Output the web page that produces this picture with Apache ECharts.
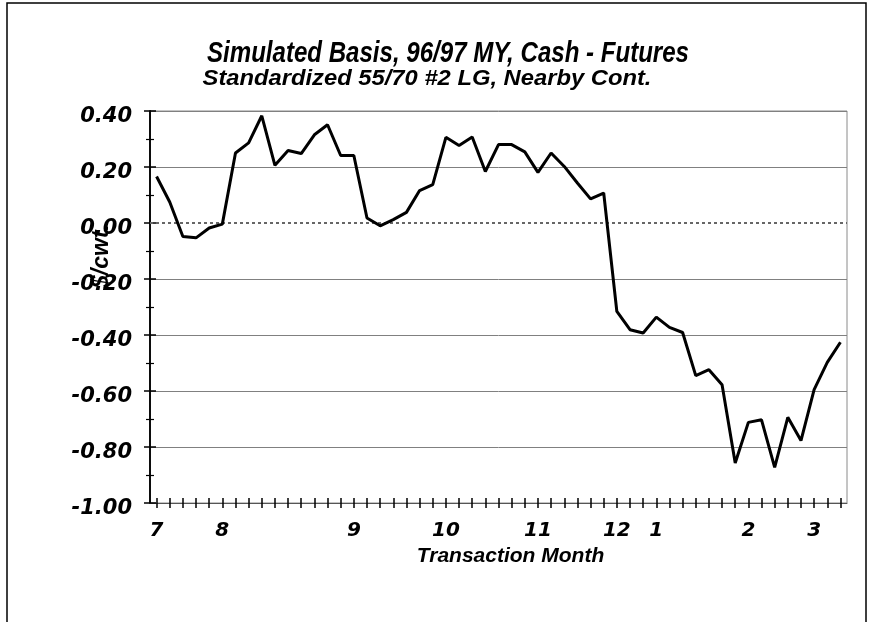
<!DOCTYPE html>
<html>
<head>
<meta charset="utf-8">
<script src="https://cdn.jsdelivr.net/npm/echarts@6/dist/echarts.min.js"></script>
<style>
  html, body { margin: 0; padding: 0; background: #fff; }
  #chart { width: 871px; height: 622px; }
</style>
</head>
<body>
<div id="chart"></div>
<script>
// Weekly simulated basis values ($/cwt.)
const basisValues = [
  0.166, 0.075, -0.048, -0.053, -0.018, -0.004, 0.25, 0.286, 0.383, 0.206,
  0.259, 0.248, 0.315, 0.351, 0.241, 0.241, 0.018, -0.01, 0.012, 0.038,
  0.116, 0.137, 0.306, 0.277, 0.307, 0.184, 0.28, 0.28, 0.254, 0.181,
  0.25, 0.202, 0.143, 0.086, 0.107, -0.316, -0.381, -0.393, -0.336, -0.373,
  -0.391, -0.545, -0.524, -0.578, -0.857, -0.712, -0.703, -0.873, -0.694, -0.777,
  -0.595, -0.498, -0.426
];
// Month tick labels, one per weekly category
const monthTickLabels = [
  '7', '', '', '', '', '8', '', '', '', '',
  '', '', '', '', '', '9', '', '', '', '',
  '', '', '10', '', '', '', '', '', '', '11',
  '', '', '', '', '', '12', '', '', '1', '',
  '', '', '', '', '', '2', '', '', '', '',
  '3', '', ''
];
const weekCategories = basisValues.map((_, i) => 'W' + (i + 1));

const titleText = 'Simulated Basis, 96/97 MY, Cash - Futures';
const subtitleText = 'Standardized 55/70 #2 LG, Nearby Cont.';
const xAxisName = 'Transaction Month';
const yAxisName = '$/cwt.';

const numFont = 'DejaVu Sans';
const txtFont = 'Liberation Sans';

const chart = echarts.init(document.getElementById('chart'), null, { renderer: 'canvas' });

const gridColors = ['#808080', '#808080', '#808080', '#808080', '#808080', 'transparent', '#808080', '#808080'];

chart.setOption({
  backgroundColor: '#ffffff',
  animation: false,
  grid: {
    left: 150, right: 24, top: 111, bottom: 119,
    show: true, borderColor: '#8a8a8a', borderWidth: 1, backgroundColor: 'transparent'
  },
  xAxis: [
    {
      type: 'category',
      data: weekCategories,
      position: 'bottom',
      boundaryGap: true,
      name: xAxisName,
      nameLocation: 'middle',
      nameGap: 42,
      nameTextStyle: { fontFamily: txtFont, fontSize: 21, fontWeight: 'bold', fontStyle: 'italic', color: '#000', padding: [0, 0, 0, 24] },
      axisLine: { show: true, onZero: false, lineStyle: { color: '#555', width: 1 } },
      axisTick: { show: true, interval: 0, alignWithLabel: true, length: 5, lineStyle: { color: '#000', width: 1.5 } },
      axisLabel: {
        interval: 0, margin: 18,
        formatter: (v, i) => monthTickLabels[i],
        fontFamily: numFont, fontSize: 20, fontWeight: 'bold', fontStyle: 'italic', color: '#000'
      },
      splitLine: { show: false }
    },
    {
      type: 'category',
      data: weekCategories,
      position: 'bottom',
      offset: 0,
      boundaryGap: true,
      axisLine: { show: false, onZero: false },
      axisTick: { show: true, inside: true, interval: 0, alignWithLabel: true, length: 5, lineStyle: { color: '#000', width: 1.5 } },
      axisLabel: { show: false },
      splitLine: { show: false }
    }
  ],
  yAxis: [
    {
      type: 'value',
      min: -1, max: 0.4, interval: 0.2,
      position: 'left',
      axisLine: { show: true, onZero: false, lineStyle: { color: '#000', width: 1.5 } },
      axisTick: { show: true, length: 6, lineStyle: { color: '#000', width: 1.5 } },
      minorTick: { show: true, splitNumber: 2, length: 4, lineStyle: { color: '#000', width: 1.2 } },
      axisLabel: {
        margin: 18,
        formatter: v => '{n|' + v.toFixed(2) + '}',
        rich: {
          n: {
            fontFamily: numFont, fontSize: 21, fontWeight: 'bold', fontStyle: 'italic', color: '#000',
            padding: [12, 0, 0, 0]
          }
        }
      },
      splitLine: { show: true, lineStyle: { color: gridColors, width: 1 } }
    },
    {
      type: 'value',
      min: -1, max: 0.4, interval: 0.2,
      position: 'left',
      offset: 0,
      axisLine: { show: true, onZero: false, lineStyle: { color: '#000', width: 1.5 } },
      axisTick: { show: true, inside: true, length: 6, lineStyle: { color: '#000', width: 1.5 } },
      minorTick: { show: true, splitNumber: 2, length: 4, lineStyle: { color: '#000', width: 1.2 } },
      axisLabel: { show: false },
      splitLine: { show: false }
    }
  ],
  graphic: [
    {
      type: 'rect',
      shape: { x: 7, y: 3, width: 859, height: 700 },
      style: { fill: 'none', stroke: '#000', lineWidth: 1.5 },
      silent: true
    },
    {
      type: 'text',
      x: 448, y: 54,
      scaleX: 0.83,
      style: {
        text: titleText,
        align: 'center', verticalAlign: 'middle',
        font: 'italic bold 29px "Liberation Sans"',
        fill: '#000'
      },
      silent: true
    },
    {
      type: 'text',
      x: 427, y: 79,
      scaleX: 1.08,
      style: {
        text: subtitleText,
        align: 'center', verticalAlign: 'middle',
        font: 'italic bold 22px "Liberation Sans"',
        fill: '#000'
      },
      silent: true
    },
    {
      type: 'text',
      x: 102, y: 256,
      rotation: Math.PI / 2,
      style: {
        text: yAxisName,
        align: 'center', verticalAlign: 'middle',
        font: 'italic bold 23px "Liberation Sans"',
        fill: '#000'
      },
      silent: true
    }
  ],
  series: [
    {
      type: 'line',
      xAxisIndex: 0, yAxisIndex: 0,
      data: basisValues,
      symbol: 'none',
      lineStyle: { color: '#000', width: 3 },
      z: 5,
      markLine: {
        silent: true,
        symbol: 'none',
        label: { show: false },
        lineStyle: { color: '#666', type: [3, 3], width: 2 },
        data: [{ yAxis: 0 }]
      }
    },
    {
      type: 'line',
      xAxisIndex: 1, yAxisIndex: 1,
      data: basisValues,
      symbol: 'none',
      lineStyle: { opacity: 0, width: 0 },
      silent: true,
      z: 1
    }
  ]
});
</script>
</body>
</html>
